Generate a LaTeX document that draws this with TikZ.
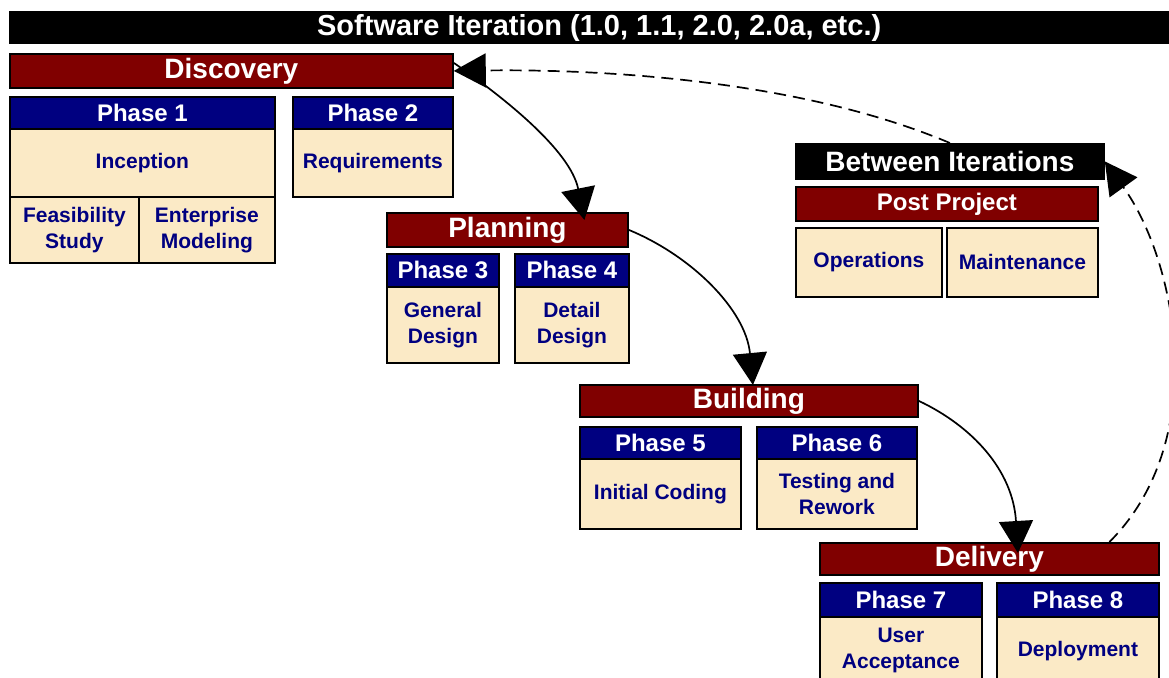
\documentclass[tikz,border=0pt]{standalone}
\usepackage{fontspec}
\setmainfont{Liberation Sans}
\usetikzlibrary{arrows.meta,calc}
\definecolor{dred}{HTML}{800000}
\definecolor{navyc}{HTML}{000080}
\definecolor{beige}{HTML}{FBEAC6}
\begin{document}
\begin{tikzpicture}[x=1pt,y=-1pt,
  box/.style={draw=black, line width=1.8pt, inner sep=0pt, anchor=north west, align=center},
  bar/.style={box, fill=dred, text=white, font=\bfseries\fontsize{28}{30}\selectfont},
  blackbar/.style={box, fill=black, text=white, font=\bfseries\fontsize{28}{30}\selectfont},
  hdr/.style={box, fill=navyc, text=white, font=\bfseries\fontsize{24}{26}\selectfont},
  subbar/.style={box, fill=dred, text=white, font=\bfseries\fontsize{24}{26}\selectfont},
  bodyb/.style={box, fill=beige, text=navyc, font=\bfseries\fontsize{21}{26}\selectfont},
  flow/.style={line width=1.7pt, -{Triangle[length=32pt,width=34pt]}},
  back/.style={flow, dash pattern=on 12pt off 7pt}]
\useasboundingbox (0,0) rectangle (1169,677);

% title
\node[fill=black, text=white, inner sep=0pt, anchor=north west, minimum width=1180, minimum height=33,
      font=\bfseries\fontsize{29}{31}\selectfont] (title) at (9,11) {Software Iteration (1.0, 1.1, 2.0, 2.0a, etc.)};

% Discovery
\node[bar, minimum width=443, minimum height=34] (disc) at (9,53) {Discovery};
\node[hdr, minimum width=265, minimum height=32] (p1h) at (9,96) {Phase 1};
\node[bodyb, minimum width=265, minimum height=68] (p1b) at (9,128) {Inception};
\node[bodyb, minimum width=129, minimum height=66] (p1c) at (9,196) {Feasibility\\Study};
\node[bodyb, minimum width=136, minimum height=66] (p1d) at (138,196) {Enterprise\\Modeling};
\node[hdr, minimum width=160, minimum height=32] (p2h) at (292,96) {Phase 2};
\node[bodyb, minimum width=160, minimum height=68] (p2b) at (292,128) {Requirements};

% Planning
\node[bar, minimum width=241, minimum height=34] (plan) at (386,212) {Planning};
\node[hdr, minimum width=112, minimum height=33] (p3h) at (386,253) {Phase 3};
\node[bodyb, minimum width=112, minimum height=76] (p3b) at (386,286) {General\\Design};
\node[hdr, minimum width=114, minimum height=33] (p4h) at (514,253) {Phase 4};
\node[bodyb, minimum width=114, minimum height=76] (p4b) at (514,286) {Detail\\Design};

% Building
\node[bar, minimum width=338, minimum height=32] (bld) at (579,384) {Building};
\node[hdr, minimum width=161, minimum height=32] (p5h) at (579,426) {Phase 5};
\node[bodyb, minimum width=161, minimum height=70] (p5b) at (579,458) {Initial Coding};
\node[hdr, minimum width=160, minimum height=32] (p6h) at (756,426) {Phase 6};
\node[bodyb, minimum width=160, minimum height=70] (p6b) at (756,458) {Testing and\\Rework};

% Between iterations
\node[blackbar, minimum width=308, minimum height=35] (bi) at (795,143) {Between Iterations};
\node[subbar, minimum width=302, minimum height=34] (pp) at (795,186) {Post Project};
\node[bodyb, minimum width=146, minimum height=69] (ops) at (795,227) {Operations};
\node[bodyb, minimum width=151, minimum height=69] (mnt) at (946,227) {Maintenance};

% Delivery
\node[bar, minimum width=339, minimum height=32] (deliv) at (819,542) {Delivery};
\node[hdr, minimum width=162, minimum height=34] (p7h) at (819,582) {Phase 7};
\node[bodyb, minimum width=162, minimum height=68] (p7b) at (819,616) {User\\Acceptance};
\node[hdr, minimum width=162, minimum height=34] (p8h) at (996,582) {Phase 8};
\node[bodyb, minimum width=162, minimum height=68] (p8b) at (996,616) {Deployment};

% connectors
\draw[flow] ([yshift=8pt]disc.east) .. controls +(48,33) and +(-14,-70) .. ([xshift=77pt,yshift=-8pt]plan.north);
\draw[flow] (plan.east) .. controls +(63,26) and +(-7,-75) .. ([xshift=4pt,yshift=-1pt]bld.north);
\draw[flow] (bld.east) .. controls +(53,25) and +(-5,-83) .. ([xshift=28.5pt,yshift=-11pt]deliv.north);
\draw[back] ([xshift=120pt]deliv.north) .. controls +(102,-102) and +(72,100) .. (bi.east);
\draw[back] (bi.north) .. controls +(-149,-63) and +(148,-2) .. (disc.east);
\end{tikzpicture}
\end{document}
